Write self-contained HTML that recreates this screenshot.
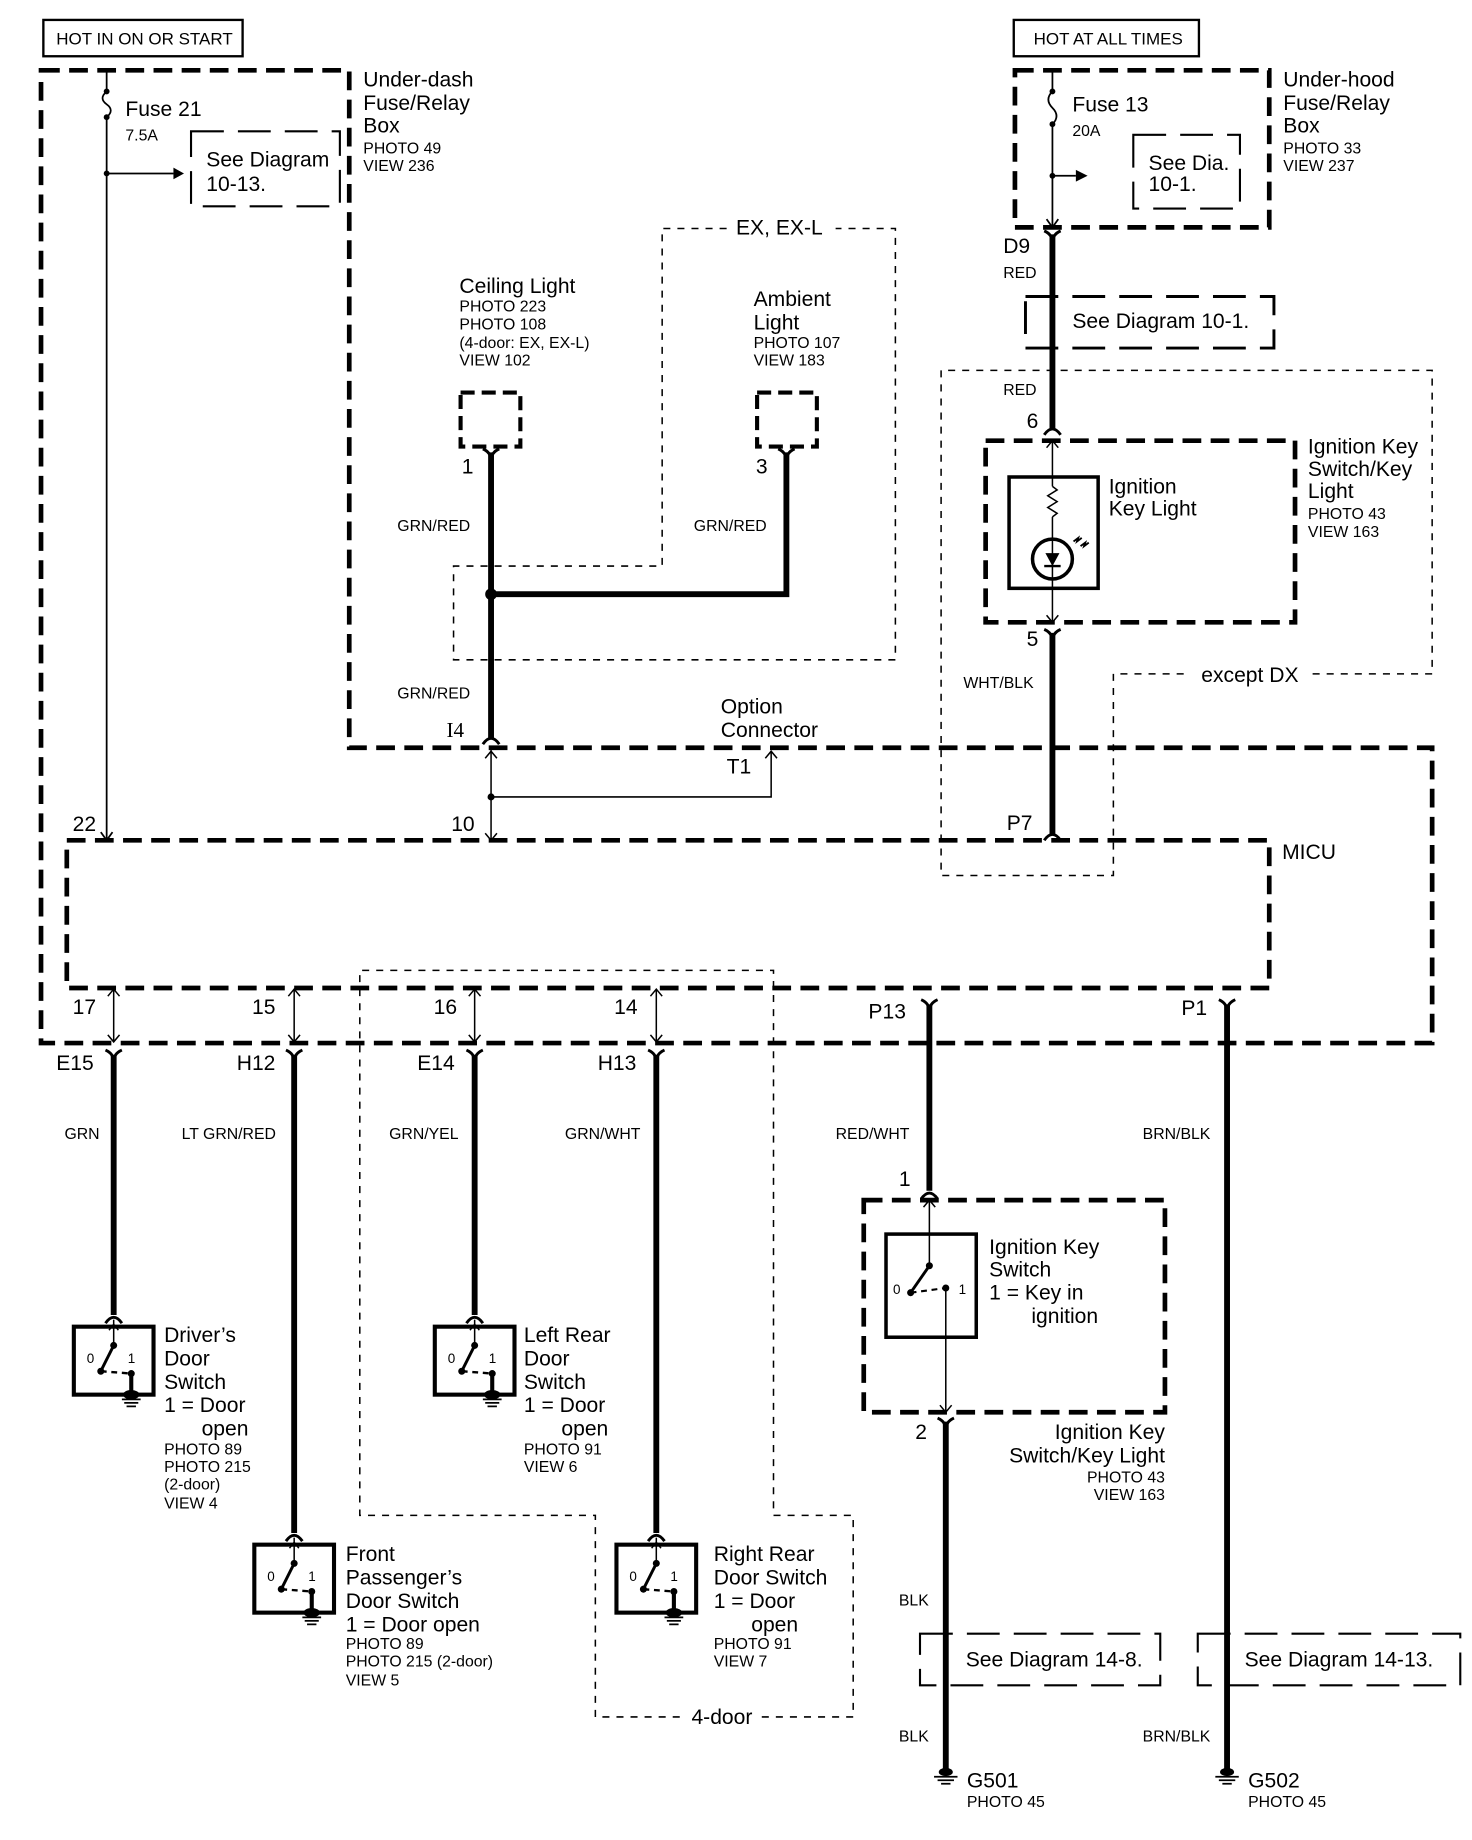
<!DOCTYPE html>
<html><head><meta charset="utf-8"><style>
html,body{margin:0;padding:0;background:#fff}
svg{display:block}
text{font-family:"Liberation Sans",Arial,sans-serif;fill:#000}
.b{font-size:18px}.s{font-size:13.5px}.m{font-size:14.5px}
</style></head><body>
<svg width="1472" height="1840" viewBox="0 0 1256 1570" xmlns="http://www.w3.org/2000/svg">
<defs>
<g id="fc"><path d="M-7,-6 Q0,-3 0,4 Q0,-3 7,-6" fill="none" stroke="#000" stroke-width="2.5"/></g>
<g id="mc"><path d="M-7,5 Q0,-5 7,5" fill="none" stroke="#000" stroke-width="2.5"/></g>
<g id="sw">
<rect x="-34" y="0" width="68" height="58" fill="none" stroke="#000" stroke-width="3.5"/>
<line x1="0" y1="-6" x2="0" y2="16" stroke="#000" stroke-width="1.3"/>
<polyline points="-4,3 0,-2 4,3" fill="none" stroke="#000" stroke-width="1.3"/>
<circle cx="0" cy="16" r="3"/><line x1="0" y1="16" x2="-11" y2="38" stroke="#000" stroke-width="2.5"/>
<circle cx="-11" cy="38" r="3"/><line x1="-11" y1="38" x2="15" y2="40" stroke="#000" stroke-width="2" stroke-dasharray="5 4"/>
<circle cx="15" cy="40" r="3"/><line x1="15" y1="40" x2="15" y2="58" stroke="#000" stroke-width="3.5"/>
<ellipse cx="15" cy="58" rx="7" ry="4"/>
<line x1="7" y1="62" x2="23" y2="62" stroke="#000" stroke-width="1.5"/>
<line x1="9" y1="65" x2="21" y2="65" stroke="#000" stroke-width="1.5"/>
<line x1="11" y1="68" x2="19" y2="68" stroke="#000" stroke-width="1.5"/>
<text x="-23" y="31" style="font-size:11.5px">0</text><text x="12" y="31" style="font-size:11.5px">1</text>
</g>
<g id="gnd"><ellipse cx="0" cy="0" rx="6" ry="3.5"/><line x1="-10" y1="4" x2="10" y2="4" stroke="#000" stroke-width="1.5"/><line x1="-7" y1="7" x2="7" y2="7" stroke="#000" stroke-width="1.5"/><line x1="-4" y1="10" x2="4" y2="10" stroke="#000" stroke-width="1.5"/></g>
</defs>

<rect x="37" y="17" width="170" height="31" fill="none" stroke="#000" stroke-width="2"/>
<text x="48" y="38" class="m">HOT IN ON OR START</text>
<rect x="865" y="17" width="158" height="31" fill="none" stroke="#000" stroke-width="2"/>
<text x="882" y="38" class="m">HOT AT ALL TIMES</text>

<g fill="none" stroke="#000" stroke-width="4" stroke-dasharray="16 8">
<path d="M35,60 L298,60 L298,638 L1222,638 L1222,890 L35,890 Z"/>
<path d="M57,717 L1083,717 L1083,843 L57,843 Z"/>
<rect x="866" y="60" width="217" height="134"/>
<rect x="841" y="376" width="264" height="155"/>
<rect x="737" y="1024" width="257" height="181"/>
<rect x="393" y="335" width="51" height="46" stroke-width="3.5" stroke-dasharray="12 6"/>
<rect x="646" y="335" width="51" height="46" stroke-width="3.5" stroke-dasharray="12 6"/>
</g>
<g fill="none" stroke="#000" stroke-width="1.3" stroke-dasharray="6 6">
<path d="M620,195 L565,195 L565,483 L387,483 L387,563 L764,563 L764,195 L713,195"/>
<path d="M1010,575 L950,575 L950,747 L803,747 L803,316 L1222,316 L1222,575 L1118,575"/>
<path d="M580,1465 L508,1465 L508,1293 L307,1293 L307,828 L660,828 L660,1293 L728,1293 L728,1465 L650,1465"/>
</g>
<g fill="none" stroke="#000" stroke-width="1.8" stroke-dasharray="28 12">
<rect x="163" y="112" width="127" height="64"/>
<rect x="967" y="115" width="91" height="63"/>
<rect x="875" y="253" width="212" height="44" stroke-width="2.5"/>
<rect x="785" y="1394" width="205" height="44"/>
<rect x="1022" y="1394" width="224" height="44"/>
</g>
<text x="176" y="142" class="b">See Diagram</text><text x="176" y="163" class="b">10-13.</text>
<text x="980" y="145" class="b">See Dia.</text><text x="980" y="163" class="b">10-1.</text>
<text x="915" y="280" class="b">See Diagram 10-1.</text>
<text x="824" y="1422" class="b">See Diagram 14-8.</text>
<text x="1062" y="1422" class="b">See Diagram 14-13.</text>

<g stroke="#000" fill="none" stroke-width="1.5">
<line x1="91" y1="60" x2="91" y2="78"/><path d="M91,78 Q84,84 91,89 Q98,94 91,100"/><line x1="91" y1="100" x2="91" y2="717"/>
<line x1="91" y1="148" x2="148" y2="148"/>
<polyline points="86,710 91,717 96,710"/>
<line x1="898" y1="60" x2="898" y2="78"/><path d="M898,78 Q891,85 898,92 Q905,99 898,106"/><line x1="898" y1="106" x2="898" y2="194"/>
<line x1="898" y1="150" x2="918" y2="150"/>
<polyline points="893,187 898,194 903,187"/>
</g>
<circle cx="91" cy="78" r="2.5"/><circle cx="91" cy="100" r="2.5"/><circle cx="91" cy="148" r="2.5"/>
<polygon points="148,143 157,148 148,153"/>
<circle cx="898" cy="78" r="2.5"/><circle cx="898" cy="106" r="2.5"/><circle cx="898" cy="150" r="2.5"/>
<polygon points="918,145 928,150 918,155"/>
<text x="107" y="99" class="b">Fuse 21</text><text x="107" y="120" class="s">7.5A</text>
<text x="915" y="95" class="b">Fuse 13</text><text x="915" y="116" class="s">20A</text>

<text x="310" y="74" class="b">Under-dash</text><text x="310" y="94" class="b">Fuse/Relay</text><text x="310" y="113" class="b">Box</text>
<text x="310" y="131" class="s">PHOTO 49</text><text x="310" y="146" class="s">VIEW 236</text>
<text x="1095" y="74" class="b">Under-hood</text><text x="1095" y="94" class="b">Fuse/Relay</text><text x="1095" y="113" class="b">Box</text>
<text x="1095" y="131" class="s">PHOTO 33</text><text x="1095" y="146" class="s">VIEW 237</text>

<text x="392" y="250" class="b">Ceiling Light</text>
<text x="392" y="266" class="s">PHOTO 223</text><text x="392" y="281" class="s">PHOTO 108</text><text x="392" y="297" class="s">(4-door: EX, EX-L)</text><text x="392" y="312" class="s">VIEW 102</text>
<text x="643" y="261" class="b">Ambient</text><text x="643" y="281" class="b">Light</text>
<text x="643" y="297" class="s">PHOTO 107</text><text x="643" y="312" class="s">VIEW 183</text>
<text x="628" y="200" class="b">EX, EX-L</text>
<g stroke="#000" stroke-width="5" fill="none">
<line x1="419" y1="386" x2="419" y2="630"/>
<polyline points="419,507 671,507 671,386"/>
<line x1="898" y1="200" x2="898" y2="366"/>
<line x1="898" y1="540" x2="898" y2="712"/>
<line x1="97" y1="900" x2="97" y2="1122"/>
<line x1="251" y1="900" x2="251" y2="1308"/>
<line x1="405" y1="900" x2="405" y2="1122"/>
<line x1="560" y1="900" x2="560" y2="1308"/>
<line x1="793" y1="857" x2="793" y2="1016"/>
<line x1="807" y1="1213" x2="807" y2="1510"/>
<line x1="1047" y1="857" x2="1047" y2="1510"/>
</g>
<circle cx="419" cy="507" r="5"/>
<use href="#fc" x="419" y="389"/><use href="#fc" x="671" y="389"/>
<use href="#mc" x="419" y="630"/>
<use href="#fc" x="898" y="203"/><use href="#mc" x="898" y="366"/><use href="#fc" x="898" y="543"/><use href="#mc" x="898" y="712"/>
<use href="#fc" x="97" y="902"/><use href="#fc" x="251" y="902"/><use href="#fc" x="405" y="902"/><use href="#fc" x="560" y="902"/>
<use href="#mc" x="97" y="1124"/><use href="#mc" x="251" y="1310"/><use href="#mc" x="405" y="1124"/><use href="#mc" x="560" y="1310"/>
<use href="#fc" x="793" y="859"/><use href="#fc" x="1047" y="859"/>
<use href="#mc" x="793" y="1018"/><use href="#fc" x="807" y="1216"/>

<text x="394" y="404" class="b">1</text><text x="645" y="404" class="b">3</text>
<text x="339" y="453" class="s">GRN/RED</text><text x="592" y="453" class="s">GRN/RED</text><text x="339" y="596" class="s">GRN/RED</text>
<text x="381" y="629" class="b" style="font-family:'Liberation Serif',serif">I4</text>
<text x="615" y="609" class="b">Option</text><text x="615" y="629" class="b">Connector</text>
<text x="620" y="660" class="b">T1</text>
<g stroke="#000" stroke-width="1.3" fill="none">
<line x1="419" y1="640" x2="419" y2="717"/>
<polyline points="414,647 419,641 424,647"/><polyline points="414,711 419,717 424,711"/>
<polyline points="419,680 658,680 658,641"/><polyline points="653,647 658,641 663,647"/>
</g>
<circle cx="419" cy="680" r="3"/>
<text x="385" y="709" class="b">10</text><text x="62" y="709" class="b">22</text>

<text x="856" y="216" class="b">D9</text><text x="856" y="237" class="s">RED</text>
<text x="856" y="337" class="s">RED</text><text x="876" y="365" class="b">6</text>
<rect x="861" y="407" width="76" height="95" fill="none" stroke="#000" stroke-width="3"/>
<g stroke="#000" stroke-width="1.3" fill="none">
<line x1="898" y1="376" x2="898" y2="415"/>
<polyline points="893,382 898,376 903,382"/>
<polyline points="898,415 902,418 894,423 902,428 894,433 902,438 898,441"/>
<line x1="898" y1="441" x2="898" y2="531"/>
<polyline points="893,525 898,531 903,525"/>
<circle cx="898" cy="477" r="17" stroke-width="3"/>
<line x1="891" y1="483" x2="905" y2="483" stroke-width="2"/>
<path d="M916,462 l4,-3 -1,3 4,-3 M922,466 l4,-3 -1,3 4,-3" stroke-width="1.6"/>
</g>
<polygon points="892,472 904,472 898,483"/>
<text x="946" y="421" class="b">Ignition</text><text x="946" y="440" class="b">Key Light</text>
<text x="1116" y="387" class="b">Ignition Key</text><text x="1116" y="406" class="b">Switch/Key</text><text x="1116" y="425" class="b">Light</text>
<text x="1116" y="443" class="s">PHOTO 43</text><text x="1116" y="458" class="s">VIEW 163</text>
<text x="876" y="551" class="b">5</text><text x="822" y="587" class="s">WHT/BLK</text>
<text x="1025" y="582" class="b">except DX</text>
<text x="859" y="708" class="b">P7</text><text x="1094" y="733" class="b">MICU</text>

<text x="62" y="865" class="b">17</text><text x="215" y="865" class="b">15</text><text x="370" y="865" class="b">16</text><text x="524" y="865" class="b">14</text>
<g stroke="#000" stroke-width="1.3" fill="none">
<line x1="97" y1="844" x2="97" y2="889"/><polyline points="92,850 97,844 102,850"/><polyline points="92,883 97,889 102,883"/>
<line x1="251" y1="844" x2="251" y2="889"/><polyline points="246,850 251,844 256,850"/><polyline points="246,883 251,889 256,883"/>
<line x1="405" y1="844" x2="405" y2="889"/><polyline points="400,850 405,844 410,850"/><polyline points="400,883 405,889 410,883"/>
<line x1="560" y1="844" x2="560" y2="889"/><polyline points="555,850 560,844 565,850"/><polyline points="555,883 560,889 565,883"/>
</g>
<text x="48" y="913" class="b">E15</text><text x="202" y="913" class="b">H12</text><text x="356" y="913" class="b">E14</text><text x="510" y="913" class="b">H13</text>
<text x="55" y="972" class="s">GRN</text><text x="155" y="972" class="s">LT GRN/RED</text><text x="332" y="972" class="s">GRN/YEL</text><text x="482" y="972" class="s">GRN/WHT</text>
<text x="741" y="869" class="b">P13</text><text x="1008" y="866" class="b">P1</text>
<text x="713" y="972" class="s">RED/WHT</text><text x="975" y="972" class="s">BRN/BLK</text>

<use href="#sw" x="97" y="1132"/><use href="#sw" x="251" y="1318"/><use href="#sw" x="405" y="1132"/><use href="#sw" x="560" y="1318"/>
<text x="140" y="1145" class="b">Driver’s</text><text x="140" y="1165" class="b">Door</text><text x="140" y="1185" class="b">Switch</text><text x="140" y="1205" class="b">1 = Door</text><text x="172" y="1225" class="b">open</text>
<text x="140" y="1241" class="s">PHOTO 89</text><text x="140" y="1256" class="s">PHOTO 215</text><text x="140" y="1271" class="s">(2-door)</text><text x="140" y="1287" class="s">VIEW 4</text>
<text x="295" y="1332" class="b">Front</text><text x="295" y="1352" class="b">Passenger’s</text><text x="295" y="1372" class="b">Door Switch</text><text x="295" y="1392" class="b">1 = Door open</text>
<text x="295" y="1407" class="s">PHOTO 89</text><text x="295" y="1422" class="s">PHOTO 215 (2-door)</text><text x="295" y="1438" class="s">VIEW 5</text>
<text x="447" y="1145" class="b">Left Rear</text><text x="447" y="1165" class="b">Door</text><text x="447" y="1185" class="b">Switch</text><text x="447" y="1205" class="b">1 = Door</text><text x="479" y="1225" class="b">open</text>
<text x="447" y="1241" class="s">PHOTO 91</text><text x="447" y="1256" class="s">VIEW 6</text>
<text x="609" y="1332" class="b">Right Rear</text><text x="609" y="1352" class="b">Door Switch</text><text x="609" y="1372" class="b">1 = Door</text><text x="641" y="1392" class="b">open</text>
<text x="609" y="1407" class="s">PHOTO 91</text><text x="609" y="1422" class="s">VIEW 7</text>
<text x="590" y="1471" class="b">4-door</text>

<text x="767" y="1012" class="b">1</text>
<rect x="756" y="1053" width="77" height="88" fill="none" stroke="#000" stroke-width="3"/>
<g stroke="#000" stroke-width="1.3" fill="none">
<line x1="793" y1="1024" x2="793" y2="1080"/><polyline points="788,1030 793,1024 798,1030"/>
<line x1="807" y1="1099" x2="807" y2="1205"/><polyline points="802,1199 807,1205 812,1199"/>
<line x1="793" y1="1080" x2="777" y2="1103" stroke-width="2.5"/>
<line x1="777" y1="1103" x2="807" y2="1099" stroke-width="1.8" stroke-dasharray="5 4"/>
</g>
<circle cx="793" cy="1080" r="3"/><circle cx="777" cy="1103" r="3"/><circle cx="807" cy="1099" r="3"/>
<text x="762" y="1104" style="font-size:11.5px">0</text><text x="818" y="1104" style="font-size:11.5px">1</text>
<text x="844" y="1070" class="b">Ignition Key</text><text x="844" y="1089" class="b">Switch</text><text x="844" y="1109" class="b">1 =  Key in</text><text x="880" y="1129" class="b">ignition</text>
<text x="781" y="1228" class="b">2</text>
<g text-anchor="end"><text x="994" y="1228" class="b">Ignition Key</text><text x="994" y="1248" class="b">Switch/Key Light</text><text x="994" y="1265" class="s">PHOTO 43</text><text x="994" y="1280" class="s">VIEW 163</text></g>
<text x="767" y="1370" class="s">BLK</text><text x="767" y="1486" class="s">BLK</text>
<text x="975" y="1486" class="s">BRN/BLK</text>
<use href="#gnd" x="807" y="1512"/><use href="#gnd" x="1047" y="1512"/>
<text x="825" y="1525" class="b">G501</text><text x="825" y="1542" class="s">PHOTO 45</text>
<text x="1065" y="1525" class="b">G502</text><text x="1065" y="1542" class="s">PHOTO 45</text>
</svg>
</body></html>
